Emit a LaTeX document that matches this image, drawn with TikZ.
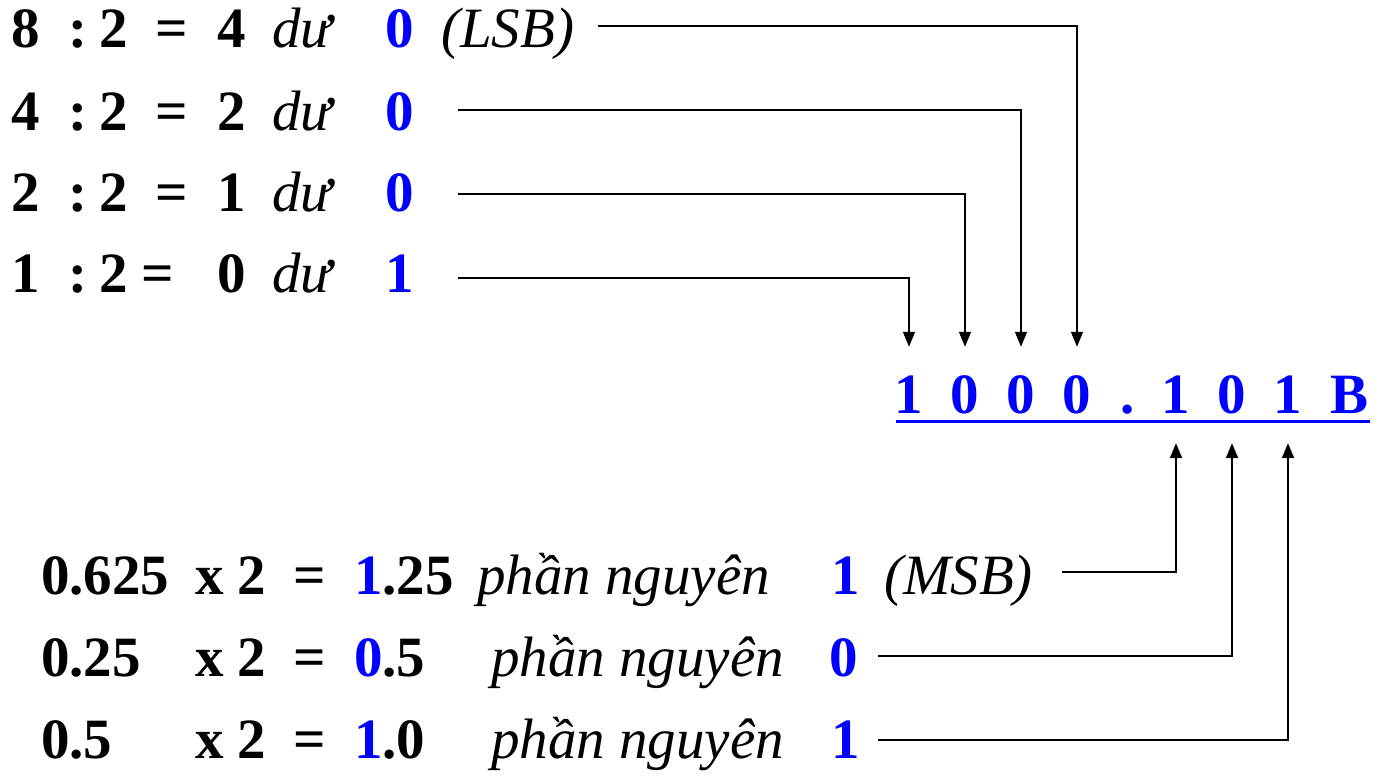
\documentclass[tikz,border=0pt]{standalone}
\usepackage{fontspec}
\setmainfont{Liberation Serif}
\usetikzlibrary{arrows.meta}
\begin{document}
\begin{tikzpicture}[x=1pt,y=-1pt,
  tok/.style={anchor=base west,inner sep=0pt,font=\fontsize{57}{62}\selectfont\bfseries},
  itok/.style={anchor=base west,inner sep=0pt,font=\fontsize{57}{62}\selectfont\itshape},
  rem/.style={tok,text=blue},
  bit/.style={anchor=base,inner xsep=0pt,inner ysep=30pt,text height=36pt,text depth=0pt,
              font=\fontsize{57}{62}\selectfont\bfseries,text=blue},
  conn/.style={line width=1.5pt,-{Triangle[width=12pt,length=15pt]}}]
\useasboundingbox (0,0) rectangle (1382,776);

% integer part
\node[tok] (a1) at (11,48) {8};
\node[tok] (c1) at (68,48) {:};
\node[tok] (d1) at (99,48) {2};
\node[tok] (e1) at (155,48) {=};
\node[tok] (q1) at (217,48) {4};
\node[itok] (u1) at (272,48) {dư};
\node[rem] (r1) at (385,48) {0};
\node[itok] (lsb) at (441,48) {(LSB)};

\node[tok] (a2) at (11,130) {4};
\node[tok] (c2) at (68,130) {:};
\node[tok] (d2) at (99,130) {2};
\node[tok] (e2) at (155,130) {=};
\node[tok] (q2) at (217,130) {2};
\node[itok] (u2) at (272,130) {dư};
\node[rem] (r2) at (385,130) {0};

\node[tok] (a3) at (11,211) {2};
\node[tok] (c3) at (68,211) {:};
\node[tok] (d3) at (99,211) {2};
\node[tok] (e3) at (155,211) {=};
\node[tok] (q3) at (217,211) {1};
\node[itok] (u3) at (272,211) {dư};
\node[rem] (r3) at (385,211) {0};

\node[tok] (a4) at (11,292) {1};
\node[tok] (c4) at (68,292) {:};
\node[tok] (d4) at (99,292) {2};
\node[tok] (e4) at (141,292) {=};
\node[tok] (q4) at (217,292) {0};
\node[itok] (u4) at (272,292) {dư};
\node[rem] (r4) at (385,292) {1};

% result
\node[bit] (b1) at (909,413) {1};
\node[bit] (b2) at (965,413) {0};
\node[bit] (b3) at (1021,413) {0};
\node[bit] (b4) at (1077,413) {0};
\node[bit] (b5) at (1128,413) {.};
\node[bit] (b6) at (1176,413) {1};
\node[bit] (b7) at (1232,413) {0};
\node[bit] (b8) at (1288,413) {1};
\node[bit] (b9) at (1349,413) {B};
\draw[blue,line width=3pt] ([yshift=-8pt,xshift=1pt]b1.base west) -- ([yshift=-8pt,xshift=2pt]b9.base east);

% fractional part
\node[tok] (f1) at (41,594) {0.625};
\node[tok] (x1) at (195,594) {x 2};
\node[tok] (g1) at (293,594) {=};
\node[tok] (p1) at (354,594) {\textcolor{blue}{1}.25};
\node[itok] (n1) at (477,594) {phần nguyên};
\node[rem] (m1) at (831,594) {1};
\node[itok] (msb) at (884,594) {(MSB)};

\node[tok] (f2) at (41,676) {0.25};
\node[tok] (x2) at (195,676) {x 2};
\node[tok] (g2) at (293,676) {=};
\node[tok] (p2) at (354,676) {\textcolor{blue}{0}.5};
\node[itok] (n2) at (491,676) {phần nguyên};
\node[rem] (m2) at (829,676) {0};

\node[tok] (f3) at (41,758) {0.5};
\node[tok] (x3) at (195,758) {x 2};
\node[tok] (g3) at (293,758) {=};
\node[tok] (p3) at (354,758) {\textcolor{blue}{1}.0};
\node[itok] (n3) at (491,758) {phần nguyên};
\node[rem] (m3) at (831,758) {1};

% connectors
\coordinate (s1) at (598,26);
\coordinate (s2) at (458,110);
\coordinate (s3) at (458,194);
\coordinate (s4) at (458,278);
\draw[conn] (s1) -| (b4.north);
\draw[conn] (s2) -| (b3.north);
\draw[conn] (s3) -| (b2.north);
\draw[conn] (s4) -| (b1.north);

\coordinate (t1) at (1062,572);
\coordinate (t2) at (878,656);
\coordinate (t3) at (878,740);
\draw[conn] (t1) -| (b6.south);
\draw[conn] (t2) -| (b7.south);
\draw[conn] (t3) -| (b8.south);
\end{tikzpicture}
\end{document}
